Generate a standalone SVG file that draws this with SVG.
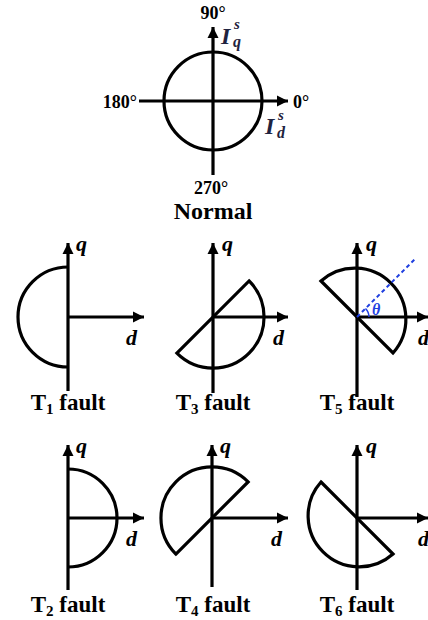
<svg xmlns="http://www.w3.org/2000/svg" width="428" height="620" viewBox="0 0 428 620">
<defs>
<marker id="ah" markerUnits="userSpaceOnUse" markerWidth="12" markerHeight="12" refX="11" refY="6" orient="auto">
<path d="M0,0.5 L11,6 L0,11.5 Z" fill="#000"/>
</marker>
<style>
.ax{stroke:#000;stroke-width:3.2;fill:none}
.arr{stroke:#000;stroke-width:3.2;fill:none;marker-end:url(#ah)}
.sh{stroke:#000;stroke-width:3.2;fill:none;stroke-linejoin:miter}
.t{font-family:"Liberation Serif","Times New Roman",serif;font-weight:bold;fill:#000}
.lab{font-family:"Liberation Serif","Times New Roman",serif;font-weight:bold;font-style:italic;font-size:22px;fill:#000}
.cap{font-size:23px;text-anchor:middle}
.deg{font-size:18px}
.iv{font-family:"Liberation Serif","Times New Roman",serif;font-weight:bold;font-style:italic;fill:#1f2340}
</style>
</defs>
<rect width="428" height="620" fill="#fff"/>

<g id="normal">
<circle class="ax" cx="213" cy="101" r="49"/>
<line class="arr" x1="213" y1="175" x2="213" y2="27"/>
<line class="arr" x1="139" y1="101" x2="288" y2="101"/>
<text class="t deg" x="213" y="19" text-anchor="middle">90°</text>
<text class="t deg" x="137" y="108" text-anchor="end">180°</text>
<text class="t deg" x="293" y="108">0°</text>
<text class="t deg" x="211" y="194" text-anchor="middle">270°</text>
<text class="t" x="213" y="219" font-size="24" text-anchor="middle">Normal</text>
<text class="iv" x="221" y="44" font-size="24">I</text>
<text class="iv" x="234" y="29" font-size="15">s</text>
<text class="iv" x="233" y="47" font-size="16">q</text>
<text class="iv" x="265" y="134" font-size="24">I</text>
<text class="iv" x="278" y="120" font-size="15">s</text>
<text class="iv" x="277" y="138" font-size="16">d</text>
</g>

<g id="t1">
<path class="sh" d="M68,267 A50,50 0 0 0 68,367"/>
<line class="arr" x1="68" y1="391" x2="68" y2="243"/>
<line class="arr" x1="68" y1="317" x2="144" y2="317"/>
<text class="lab" x="76" y="251">q</text>
<text class="lab" x="126" y="345">d</text>
<text class="t cap" x="68" y="410">T<tspan font-size="15" dy="4">1</tspan><tspan dy="-4"> fault</tspan></text>
</g>

<g id="t3">
<path class="sh" d="M176.9,353.1 L249.1,280.9 A51,51 0 0 1 176.9,353.1 Z"/>
<line class="arr" x1="213" y1="393" x2="213" y2="243"/>
<line class="arr" x1="213" y1="317" x2="288" y2="317"/>
<text class="lab" x="222" y="251">q</text>
<text class="lab" x="273" y="345">d</text>
<text class="t cap" x="213" y="410">T<tspan font-size="15" dy="4">3</tspan><tspan dy="-4"> fault</tspan></text>
</g>

<g id="t5">
<path class="sh" d="M321,281 L393,353 A51,51 0 0 0 321,281 Z"/>
<line class="arr" x1="357" y1="397" x2="357" y2="243"/>
<line class="arr" x1="357" y1="317" x2="428" y2="317"/>
<line x1="357" y1="317" x2="416" y2="258" stroke="#1f3fe0" stroke-width="2" stroke-dasharray="4 3"/>
<path d="M369,317 A12,12 0 0 0 365.5,308.5" stroke="#1f3fe0" stroke-width="1.5" fill="none"/>
<text class="lab" x="372" y="315" font-size="16" style="fill:#1f3fe0;font-size:16px">θ</text>
<text class="lab" x="366" y="251">q</text>
<text class="lab" x="418" y="345">d</text>
<text class="t cap" x="357" y="410">T<tspan font-size="15" dy="4">5</tspan><tspan dy="-4"> fault</tspan></text>
</g>

<g id="t2">
<path class="sh" d="M68,469 A49,49 0 0 1 68,567"/>
<line class="arr" x1="68" y1="590" x2="68" y2="445"/>
<line class="arr" x1="68" y1="518" x2="144" y2="518"/>
<text class="lab" x="76" y="453">q</text>
<text class="lab" x="126" y="546">d</text>
<text class="t cap" x="68" y="612">T<tspan font-size="15" dy="4">2</tspan><tspan dy="-4"> fault</tspan></text>
</g>

<g id="t4">
<path class="sh" d="M175.9,554.1 L248.1,481.9 A51,51 0 0 0 175.9,554.1 Z"/>
<line class="arr" x1="212" y1="587" x2="212" y2="445"/>
<line class="arr" x1="212" y1="518" x2="288" y2="518"/>
<text class="lab" x="220" y="453">q</text>
<text class="lab" x="271" y="546">d</text>
<text class="t cap" x="213" y="612">T<tspan font-size="15" dy="4">4</tspan><tspan dy="-4"> fault</tspan></text>
</g>

<g id="t6">
<path class="sh" d="M321,482 L393,554 A51,51 0 0 1 321,482 Z"/>
<line class="arr" x1="357" y1="590" x2="357" y2="445"/>
<line class="arr" x1="357" y1="518" x2="428" y2="518"/>
<text class="lab" x="366" y="453">q</text>
<text class="lab" x="418" y="546">d</text>
<text class="t cap" x="357" y="612">T<tspan font-size="15" dy="4">6</tspan><tspan dy="-4"> fault</tspan></text>
</g>
</svg>
